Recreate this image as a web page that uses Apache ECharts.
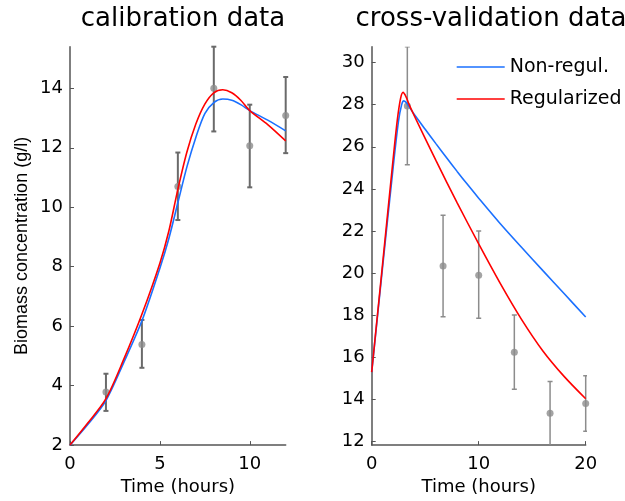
<!DOCTYPE html>
<html>
<head>
<meta charset="utf-8">
<script src="https://cdn.jsdelivr.net/npm/echarts@6/dist/echarts.min.js"></script>
<style>html,body{margin:0;padding:0;background:#fff}#c{width:625px;height:501px}</style>
</head>
<body>
<div id="c"></div>
<script>
// ---- data ----
const calTicksX = [0, 5, 10];
const calTicksY = [2, 4, 6, 8, 10, 12, 14];
const cvTicksX = [0, 10, 20];
const cvTicksY = [12, 14, 16, 18, 20, 22, 24, 26, 28, 30];

const calTime = [2, 4, 6, 8, 10, 12];
const calMean = [3.79, 5.38, 10.7, 14.0, 12.07, 13.09];
const calLow  = [3.15, 4.6, 9.57, 12.55, 10.67, 11.82];
const calHigh = [4.4, 6.21, 11.84, 15.4, 13.45, 14.38];

const cvTime = [3.33, 6.67, 10, 13.33, 16.67, 20];
const cvMean = [27.93, 20.34, 19.9, 16.25, 13.35, 13.81];
const cvLow  = [25.15, 17.93, 17.86, 14.49, 11.5, 12.5];
const cvHigh = [30.75, 22.75, 22.0, 18.01, 14.86, 15.13];

const calCurveT = [0, 1, 2, 3, 4, 5, 5.5, 6, 6.5, 7, 7.5, 8, 8.5, 9, 9.5, 10, 11, 12];
const calBlue = [2, 2.7, 3.5, 4.79, 6.18, 7.95, 8.95, 10.15, 11.35, 12.35, 13.15, 13.52, 13.64, 13.6, 13.45, 13.25, 12.93, 12.57];
const calRed  = [2, 2.75, 3.56, 4.9, 6.4, 8.12, 9.2, 10.6, 11.85, 12.8, 13.47, 13.85, 13.95, 13.85, 13.6, 13.25, 12.78, 12.23];

const cvBlueT = [0, 1, 2, 2.5, 2.8, 3.0, 3.3, 3.6, 4, 5, 6, 7, 8, 9, 10, 12, 14, 16, 18, 20];
const cvBlue  = [15.3, 20.2, 25.0, 27.2, 28.0, 28.18, 28.06, 27.82, 27.52, 26.83, 26.15, 25.48, 24.82, 24.18, 23.56, 22.36, 21.23, 20.12, 19.02, 17.92];
const cvRedT = [0, 1, 2, 2.4, 2.7, 2.93, 3.2, 3.5, 4, 6, 8, 10, 12, 14, 16, 18, 20];
const cvRed  = [15.3, 20.35, 25.4, 27.3, 28.3, 28.58, 28.38, 28.0, 27.45, 25.35, 23.33, 21.39, 19.53, 17.81, 16.31, 15.09, 14.04];

// ---- helpers ----
const FONT = '"DejaVu Sans", "Liberation Sans", Arial, sans-serif';
const FONT_V = '"Liberation Sans", Arial, Helvetica, sans-serif';
const BLUE = '#1a70ff';
const RED = '#ff0000';
const zip = (a, b) => a.map((v, i) => [v, b[i]]);
const errData = (t, lo, hi) => t.map((v, i) => [v, lo[i], hi[i]]);

function errRender(color, width, cap) {
  return function (params, api) {
    const x = api.value(0);
    const lo = api.coord([x, api.value(1)]);
    const hi = api.coord([x, api.value(2)]);
    const st = { stroke: color, lineWidth: width };
    return {
      type: 'group',
      children: [
        { type: 'line', shape: { x1: lo[0], y1: lo[1], x2: hi[0], y2: hi[1] }, style: st },
        { type: 'line', shape: { x1: lo[0] - cap, y1: lo[1], x2: lo[0] + cap, y2: lo[1] }, style: st },
        { type: 'line', shape: { x1: hi[0] - cap, y1: hi[1], x2: hi[0] + cap, y2: hi[1] }, style: st }
      ]
    };
  };
}

const axisCommon = {
  axisLine: { show: true, lineStyle: { color: '#555', width: 1.5 } },
  axisTick: { show: true, inside: true, length: 4, lineStyle: { color: '#555', width: 1 } },
  axisLabel: { color: '#000', fontSize: 18, fontFamily: FONT },
  splitLine: { show: false }
};

function xAx(grid, max, ticks) {
  return Object.assign({}, axisCommon, {
    type: 'value', gridIndex: grid, min: 0, max: max,
    name: 'Time (hours)', nameLocation: 'middle', nameGap: 31,
    nameTextStyle: { color: '#000', fontSize: 18, fontFamily: FONT },
    axisTick: Object.assign({}, axisCommon.axisTick, { customValues: ticks }),
    axisLabel: Object.assign({}, axisCommon.axisLabel, { customValues: ticks, margin: 10 })
  });
}
function yAx(grid, min, max, ticks, name) {
  return Object.assign({}, axisCommon, {
    type: 'value', gridIndex: grid, min: min, max: max,
    name: name || '', nameLocation: 'middle', nameGap: 39,
    nameTextStyle: { color: '#000', fontSize: 18, fontFamily: FONT_V },
    axisTick: Object.assign({}, axisCommon.axisTick, { customValues: ticks }),
    axisLabel: Object.assign({}, axisCommon.axisLabel, { customValues: ticks, margin: 7 })
  });
}

const chart = echarts.init(document.getElementById('c'), null, { renderer: 'canvas' });
chart.setOption({
  backgroundColor: '#fff',
  animation: false,
  title: [
    { text: 'calibration data', left: 178, top: 1, textAlign: 'center',
      textStyle: { fontSize: 26, fontWeight: 'normal', color: '#000', fontFamily: FONT } },
    { text: 'cross-validation data', left: 486, top: 1, textAlign: 'center',
      textStyle: { fontSize: 26, fontWeight: 'normal', color: '#000', fontFamily: FONT } }
  ],
  legend: {
    data: ['Non-regul.', 'Regularized'],
    orient: 'vertical', left: 451.7, top: 52,
    icon: 'rect', itemWidth: 48, itemHeight: 1.6, itemGap: 12,
    textStyle: { fontSize: 19, lineHeight: 20, color: '#000', fontFamily: FONT }
  },
  grid: [
    { left: 70, top: 46.7, width: 215.7, height: 400 },
    { left: 371.7, top: 46.7, width: 214, height: 400 }
  ],
  xAxis: [xAx(0, 12, calTicksX), xAx(1, 20, cvTicksX)],
  yAxis: [yAx(0, 2, 15.4, calTicksY, 'Biomass concentration (g/l)'), yAx(1, 11.84, 30.75, cvTicksY)],
  series: [
    { type: 'custom', xAxisIndex: 0, yAxisIndex: 0, renderItem: errRender('#6a6a6a', 2, 2.5),
      data: errData(calTime, calLow, calHigh), encode: { x: 0, y: [1, 2] }, z: 1, silent: true },
    { type: 'scatter', xAxisIndex: 0, yAxisIndex: 0, data: zip(calTime, calMean),
      symbolSize: 7, itemStyle: { color: '#8c8c8c' }, z: 2 },
    { type: 'custom', xAxisIndex: 1, yAxisIndex: 1, renderItem: errRender('#8c8c8c', 1.5, 2.5),
      data: errData(cvTime, cvLow, cvHigh), encode: { x: 0, y: [1, 2] }, clip: true, z: 1, silent: true },
    { type: 'scatter', xAxisIndex: 1, yAxisIndex: 1, data: zip(cvTime, cvMean),
      symbolSize: 7, itemStyle: { color: '#8c8c8c' }, z: 2 },
    { name: 'Non-regul.', type: 'line', xAxisIndex: 0, yAxisIndex: 0, data: zip(calCurveT, calBlue),
      smooth: 0.3, symbol: 'none', lineStyle: { color: BLUE, width: 1.6 }, itemStyle: { color: BLUE }, z: 3 },
    { name: 'Regularized', type: 'line', xAxisIndex: 0, yAxisIndex: 0, data: zip(calCurveT, calRed),
      smooth: 0.3, symbol: 'none', lineStyle: { color: RED, width: 1.6 }, itemStyle: { color: RED }, z: 4 },
    { name: 'Non-regul.', type: 'line', xAxisIndex: 1, yAxisIndex: 1, data: zip(cvBlueT, cvBlue),
      smooth: 0.3, symbol: 'none', lineStyle: { color: BLUE, width: 1.6 }, itemStyle: { color: BLUE }, z: 3 },
    { name: 'Regularized', type: 'line', xAxisIndex: 1, yAxisIndex: 1, data: zip(cvRedT, cvRed),
      smooth: 0.3, symbol: 'none', lineStyle: { color: RED, width: 1.6 }, itemStyle: { color: RED }, z: 4 }
  ]
});
</script>
</body>
</html>
